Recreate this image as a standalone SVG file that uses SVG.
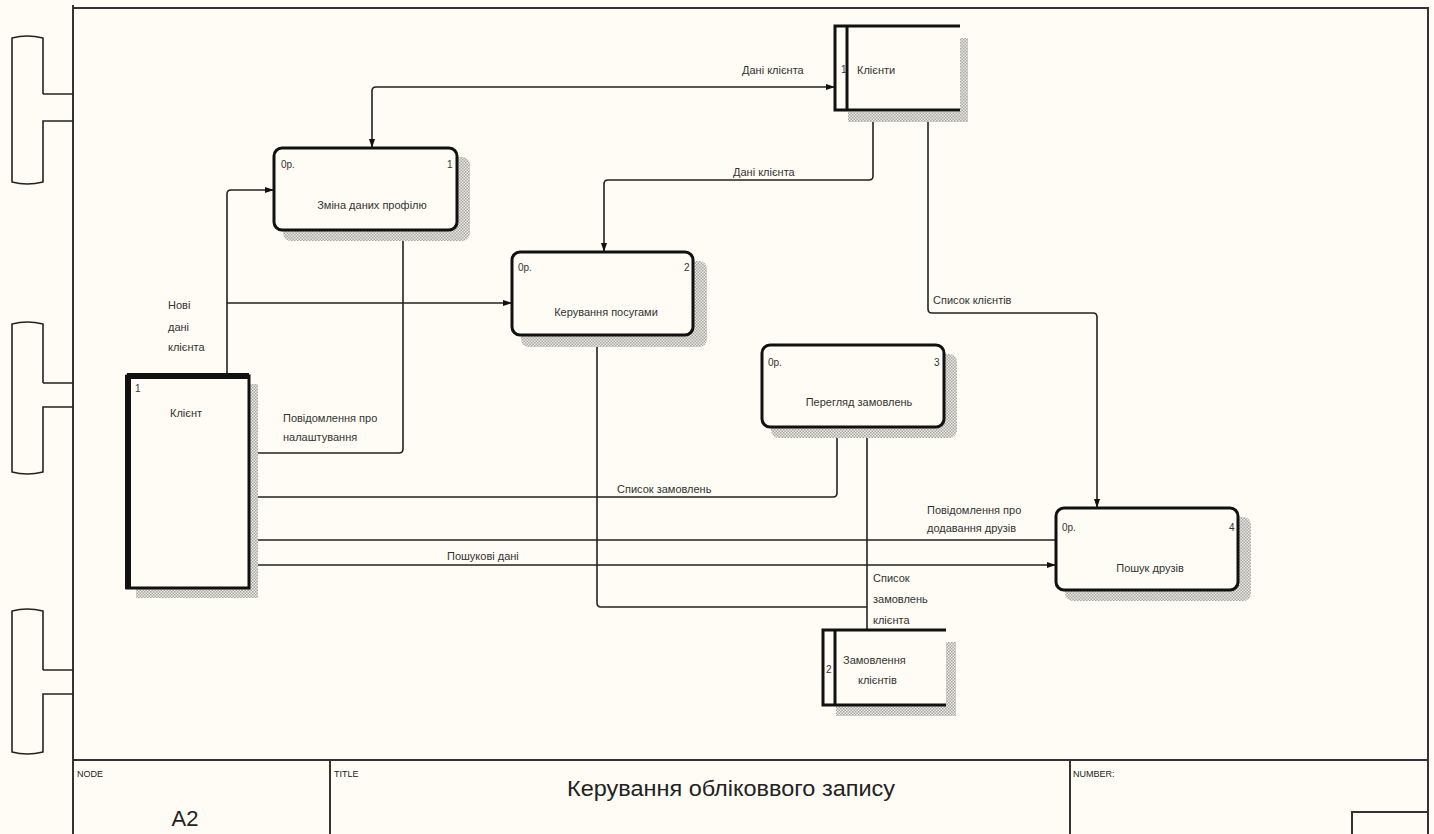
<svg xmlns="http://www.w3.org/2000/svg" width="1434" height="834" viewBox="0 0 1434 834">
<style>
.frame{fill:none;stroke:#333;stroke-width:2}
.brk{fill:none;stroke:#222;stroke-width:1.6}
.box{fill:#fefcf5;stroke:#111;stroke-width:3}
.sh{fill:url(#dots)}
.bg{fill:#fefcf5}
.ln{fill:none;stroke:#222;stroke-width:1.6}
.t{font-family:"Liberation Sans",Arial,sans-serif;font-size:11px;fill:#333}
.tn{font-family:"Liberation Sans",Arial,sans-serif;font-size:10px;fill:#333}
.tb{font-family:"Liberation Sans",Arial,sans-serif;fill:#222}
</style>
<defs>
<pattern id="dots" width="3" height="3" patternUnits="userSpaceOnUse">
<rect width="3" height="3" fill="#efede5"/>
<rect width="1.5" height="1.5" fill="#a4a4a0"/>
<rect x="1.5" y="1.5" width="1.5" height="1.5" fill="#a4a4a0"/>
</pattern>
<marker id="arr" viewBox="0 0 9 6" refX="9" refY="3" markerWidth="9" markerHeight="6" markerUnits="userSpaceOnUse" orient="auto-start-reverse">
<path d="M0,0 L9,3 L0,6 z" fill="#111"/>
</marker>
</defs>
<rect width="1434" height="834" fill="#fefcf5"/>

<g id="frame">
<path class="frame" d="M73,5 V834 M73,8 H1428 V834 M73,760 H1428 M330,760 V834 M1070,760 V834 M1352,834 V812 H1428"/>
<text class="tb" x="77" y="777" font-size="9">NODE</text>
<text class="tb" x="334" y="777" font-size="9">TITLE</text>
<text class="tb" x="1073" y="777" font-size="9">NUMBER:</text>
<text class="tb" x="567" y="796" font-size="22" textLength="328" lengthAdjust="spacingAndGlyphs">Керування обліковвого запису</text>
<text class="tb" x="185" y="826" font-size="22" text-anchor="middle">A2</text>
</g>

<g id="binder">
<path class="brk" d="M43,94 V38 Q27,34 12,38 V182 Q27,186 43,182 V121 H73 M43,94 H73"/>
<path class="brk" d="M43,383 V324 Q27,320 12,324 V472 Q27,476 43,472 V407 H73 M43,383 H73"/>
<path class="brk" d="M43,670 V611 Q27,607 12,611 V752 Q27,756 43,752 V694 H73 M43,670 H73"/>
</g>

<g id="connectors">
<path class="ln" d="M372,148 V91 Q372,87 376,87 H835" marker-start="url(#arr)" marker-end="url(#arr)"/>
<path class="ln" d="M873,110 V176 Q873,180 869,180 H608 Q604,180 604,184 V252" marker-end="url(#arr)"/>
<path class="ln" d="M928,110 V309 Q928,313 932,313 H1093 Q1097,313 1097,317 V508" marker-end="url(#arr)"/>
<path class="ln" d="M227,375 V194 Q227,190 231,190 H274" marker-end="url(#arr)"/>
<path class="ln" d="M227,303 H512" marker-end="url(#arr)"/>
<path class="ln" d="M403,230 V449 Q403,453 399,453 H249" marker-end="url(#arr)"/>
<path class="ln" d="M837,427 V493 Q837,497 833,497 H249" marker-end="url(#arr)"/>
<path class="ln" d="M1056,540 H249" marker-end="url(#arr)"/>
<path class="ln" d="M249,565 H1056" marker-end="url(#arr)"/>
<path class="ln" d="M867,630 V427" marker-end="url(#arr)"/>
<path class="ln" d="M867,607 H601 Q597,607 597,603 V335" marker-end="url(#arr)"/>
<text class="t" x="742" y="74">Дані клієнта</text>
<text class="t" x="733" y="176">Дані клієнта</text>
<text class="t" x="933" y="304">Список клієнтів</text>
<text class="t" x="168" y="309">Нові</text>
<text class="t" x="168" y="331">дані</text>
<text class="t" x="168" y="351">клієнта</text>
<text class="t" x="283" y="422">Повідомлення про</text>
<text class="t" x="283" y="441">налаштування</text>
<text class="t" x="617" y="493">Список замовлень</text>
<text class="t" x="927" y="514">Повідомлення про</text>
<text class="t" x="927" y="532">додавання друзів</text>
<text class="t" x="447" y="560">Пошукові дані</text>
<text class="t" x="873" y="582">Список</text>
<text class="t" x="873" y="603">замовлень</text>
<text class="t" x="873" y="624">клієнта</text>
</g>

<g id="store-clients">
<rect class="sh" x="848" y="38" width="120" height="84"/>
<rect class="bg" x="835" y="26" width="125" height="86"/>
<path class="box" d="M960,26 H835 V110 H960 M847,26 V110" fill="none"/>
<text class="tn" x="841" y="73" font-size="7">1</text>
<text class="t" x="857" y="74">Клієнти</text>
</g>

<g id="store-orders">
<rect class="sh" x="836" y="642" width="120" height="74"/>
<rect class="bg" x="823" y="630" width="123" height="75"/>
<path class="box" d="M946,630 H823 V705 H946 M835,630 V705" fill="none"/>
<text class="tn" x="826" y="673" font-size="7">2</text>
<text class="t" x="843" y="664">Замовлення</text>
<text class="t" x="858" y="684">клієнтів</text>
</g>

<g id="entity-client">
<rect class="sh" x="136" y="384" width="122" height="214"/>
<rect class="box" x="127" y="376" width="122" height="212"/>
<path d="M128,375 V589 M127,376 H249" stroke="#111" stroke-width="6" fill="none"/>
<text class="tn" x="135" y="392" font-size="8">1</text>
<text class="t" x="170" y="417">Клієнт</text>
</g>

<g id="proc-1">
<rect class="sh" x="283" y="157" width="187" height="84" rx="8"/>
<rect class="box" x="274" y="148" width="183" height="82" rx="8"/>
<text class="tn" x="281" y="168">0р.</text>
<text class="tn" x="447" y="168">1</text>
<text class="t" x="372" y="209" text-anchor="middle">Зміна даних профілю</text>
</g>

<g id="proc-2">
<rect class="sh" x="521" y="261" width="186" height="86" rx="8"/>
<rect class="box" x="512" y="252" width="181" height="83" rx="8"/>
<text class="tn" x="518" y="271">0р.</text>
<text class="tn" x="684" y="271">2</text>
<text class="t" x="606" y="316" text-anchor="middle">Керування посугами</text>
</g>

<g id="proc-3">
<rect class="sh" x="771" y="354" width="186" height="84" rx="8"/>
<rect class="box" x="762" y="345" width="182" height="82" rx="8"/>
<text class="tn" x="768" y="366">0р.</text>
<text class="tn" x="934" y="366">3</text>
<text class="t" x="859" y="406" text-anchor="middle">Перегляд замовлень</text>
</g>

<g id="proc-4">
<rect class="sh" x="1065" y="517" width="186" height="84" rx="8"/>
<rect class="box" x="1056" y="508" width="182" height="82" rx="8"/>
<text class="tn" x="1062" y="531">0р.</text>
<text class="tn" x="1229" y="531">4</text>
<text class="t" x="1150" y="572" text-anchor="middle">Пошук друзів</text>
</g>
</svg>
